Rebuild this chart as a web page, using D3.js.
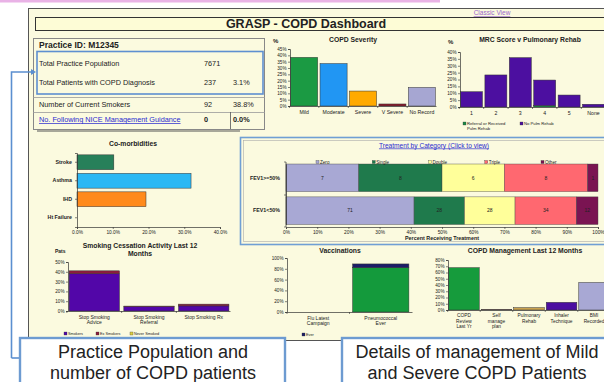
<!DOCTYPE html>
<html><head><meta charset="utf-8">
<script src="https://cdn.jsdelivr.net/npm/d3@7"></script>
<style>body{margin:0;background:#fff;} svg{display:block;font-family:"Liberation Sans",Arial,sans-serif;}</style>
</head><body><svg id="c" width="604" height="382"></svg>
<script>
// ---------------- DATA ----------------
const practiceLabels = ["Total Practice Population","Total Patients with COPD Diagnosis","Number of Current Smokers","No. Following NICE Management Guidance"];
const practiceCounts = ["7671","237","92","0"];
const practicePct = ["","3.1%","38.8%","0.0%"];

const severityCats = ["Mild","Moderate","Severe","V Severe","No Record"];
const severityVals = [38.4, 33.5, 11.8, 1.6, 14.7];
const severityTicks = [0,5,10,15,20,25,30,35,40,45];

const mrcCats = ["1","2","3","4","5","None"];
const mrcReferral = [0, 0, 0, 1.0, 0, 0];
const mrcNoRehab = [11.1, 23.3, 35.9, 18.6, 8.7, 2.0];
const mrcTicks = [0,5,10,15,20,25,30,35,40];
const mrcLegend = ["Referral or Received Pulm Rehab","No Pulm Rehab"];

const comorbCats = ["Stroke","Asthma","IHD","Ht Failure"];
const comorbVals = [10.3, 31.9, 19.3, 0];
const comorbTicks = [0,10,20,30,40];

const treatRows = ["FEV1>=50%","FEV1<50%"];
const treatSeries = ["Zero","Single","Double","Triple","Other"];
const treatZero = [7, 71];
const treatSingle = [8, 28];
const treatDouble = [6, 28];
const treatTriple = [8, 34];
const treatOther = [1, 12];
const treatTicks = [0,10,20,30,40,50,60,70,80,90,100];

const smokeCats = ["Stop Smoking\nAdvice","Stop Smoking\nReferral","Stop Smoking Rx"];
const smokeA = [38, 4.5, 5.2];
const smokeB = [3, 0.5, 1.8];
const smokeTicks = [0,10,20,30,40,50];
const smokeLegend = ["Smokers","Ex Smokers","Never Smoked"];

const vaccCats = ["Flu Latest\nCampaign","Pneumococcal\nEver"];
const vaccGiven = [0, 82];
const vaccOther = [0, 7];
const vaccTicks = [0,20,40,60,80,100];

const mgmtCats = ["COPD\nReview\nLast Yr","Self\nmanage\nplan","Pulmonary\nRehab","Inhaler\nTechnique","BMI\nRecorded"];
const mgmtVals = [67.7, 0.6, 3.7, 12.3, 44];
const mgmtTicks = [0,10,20,30,40,50,60,70,80];

// ---------------- STYLES ----------------
const severityColors = ["#1b9a43","#2196f3","#ffaa00","#8b1a2b","#a6a6d2"];
const mrcColors = ["#1a8a46","#4c0fa0"];
const comorbColors = ["#27805a","#2bb8f4","#ff8a1c"];
const treatColors = ["#a8a8d4","#1f7a4c","#ffff9a","#ff6870","#7a1452"];
const smokeColors = ["#5206a8","#8c1c3c","#e0d040"];
const vaccColors = ["#149a3c","#1c1c68"];
const mgmtColors = ["#169b3c","#8b1a2b","#c9a24f","#4c0fa0","#a8a8d4"];
const ink = "#222";

const svg = d3.select("#c");

// ---------------- FRAME ----------------
svg.append("rect").attr("x",0).attr("y",0).attr("width",440).attr("height",2.5).attr("fill","#e9b2e6");
svg.append("rect").attr("x",28.5).attr("y",8.5).attr("width",590).attr("height",332).attr("fill","#fbfadf").attr("stroke","#555").attr("stroke-width",1);
svg.append("text").attr("x",492).attr("y",15).attr("text-anchor","middle").attr("font-size",6.5).attr("fill","#9a66cc").attr("text-decoration","underline").text("Classic View");
svg.append("rect").attr("x",35.5).attr("y",17.5).attr("width",590).attr("height",13).attr("fill","#fdfcd6").attr("stroke","#333").attr("stroke-width",1);
svg.append("text").attr("x",306).attr("y",28).attr("text-anchor","middle").attr("font-size",12.5).attr("font-weight","bold").attr("fill",ink).text("GRASP - COPD Dashboard");

// practice info
svg.append("rect").attr("x",33.5).attr("y",38.5).attr("width",231).attr("height",91).attr("fill","none").attr("stroke","#888").attr("stroke-width",1);
svg.append("text").attr("x",39).attr("y",48).attr("font-size",8.5).attr("font-weight","bold").attr("fill",ink).text("Practice ID: M12345");
svg.append("line").attr("x1",33).attr("x2",265).attr("y1",97.5).attr("y2",97.5).attr("stroke","#999").attr("stroke-width",0.8);
svg.append("line").attr("x1",33).attr("x2",265).attr("y1",112.5).attr("y2",112.5).attr("stroke","#999").attr("stroke-width",0.8);
svg.append("line").attr("x1",230.5).attr("x2",230.5).attr("y1",112).attr("y2",129).attr("stroke","#555").attr("stroke-width",0.8);
const rowY = [66, 85, 107, 122];
practiceLabels.forEach((l,i)=>{
  const link = i===3;
  svg.append("text").attr("x",39).attr("y",rowY[i]).attr("font-size",7.3)
    .attr("fill",link?"#2a2ad0":ink).attr("text-decoration",link?"underline":null).text(l);
  svg.append("text").attr("x",204).attr("y",rowY[i]).attr("font-size",7.3).attr("font-weight",link?"bold":null).attr("fill",ink).text(practiceCounts[i]);
  svg.append("text").attr("x",233).attr("y",rowY[i]).attr("font-size",7.3).attr("font-weight",link?"bold":null).attr("fill",ink).text(practicePct[i]);
});
svg.append("rect").attr("x",37).attr("y",51.5).attr("width",226).attr("height",42.5).attr("fill","none").attr("stroke","#5e8fd0").attr("stroke-width",1.6);
svg.append("line").attr("x1",37).attr("x2",240).attr("y1",131).attr("y2",131).attr("stroke","#555").attr("stroke-width",1);

// ---------------- HELPERS ----------------
function styleAxis(a, fs){
  a.attr("font-size",fs).attr("font-family",null);
  a.selectAll(".domain").attr("stroke","#333").attr("stroke-width",0.7);
  a.selectAll(".tick line").attr("stroke","#333").attr("stroke-width",0.6);
  a.selectAll(".tick text").attr("fill",ink);
}
function multiline(a, fs, lh){
  a.selectAll(".tick text").each(function(d){
    const t = d3.select(this); const lines = String(d).split("\n");
    t.text(null).attr("y",0).attr("dy",null);
    lines.forEach((ln,j)=>t.append("tspan").attr("x",0).attr("y",fs+2.5+j*lh).text(ln));
  });
}
function vbar(o){
  const x = d3.scaleBand().domain(o.cats).range([o.x0,o.x1]).paddingInner(o.pi).paddingOuter(o.po);
  const y = d3.scaleLinear().domain([0,o.max]).range([o.yb,o.yt]);
  const g = svg.append("g");
  o.cats.forEach((c,i)=>{
    let acc = 0;
    o.series.forEach((s,k)=>{
      const v = s[i];
      if(v>0){
        g.append("rect").attr("x",x(c)).attr("width",x.bandwidth())
          .attr("y",y(acc+v)).attr("height",y(acc)-y(acc+v))
          .attr("fill",o.byCat?o.colors[i]:o.colors[k]).attr("stroke","#333").attr("stroke-width",0.5);
      }
      acc += v;
    });
  });
  const ya = g.append("g").attr("transform",`translate(${o.x0},0)`)
    .call(d3.axisLeft(y).tickValues(o.ticks).tickSize(2).tickSizeOuter(2).tickPadding(1.5).tickFormat(d=>d+"%"));
  styleAxis(ya, 4.6);
  const xa = g.append("g").attr("transform",`translate(0,${o.yb})`)
    .call(d3.axisBottom(x).tickSize(0).tickSizeOuter(0));
  styleAxis(xa, o.xfs||5.2);
  multiline(xa, o.xfs||5.2, o.lh||5.2);
  // boundary ticks
  o.cats.forEach(c=>{ g.append("line").attr("x1",x(c)-x.step()*x.paddingInner()/2).attr("x2",x(c)-x.step()*x.paddingInner()/2).attr("y1",o.yb).attr("y2",o.yb+2).attr("stroke","#333").attr("stroke-width",0.6); });
  return {x,y,g};
}
function title(x,y,t,fs){
  svg.append("text").attr("x",x).attr("y",y).attr("text-anchor","middle").attr("font-size",fs||6.8).attr("font-weight","bold").attr("fill",ink).text(t);
}
function legend(items, colors, xs, y, fs){
  items.forEach((t,i)=>{
    svg.append("rect").attr("x",xs[i]).attr("y",y-3).attr("width",3).attr("height",3).attr("fill",colors[i]).attr("stroke","#333").attr("stroke-width",0.3);
    svg.append("text").attr("x",xs[i]+4).attr("y",y).attr("font-size",fs||4.3).attr("fill",ink).text(t);
  });
}

// ---------------- COPD SEVERITY ----------------
title(353,42,"COPD Severity");
svg.append("text").attr("x",273).attr("y",43).attr("font-size",6).attr("font-weight","bold").attr("fill",ink).text("%");
vbar({cats:severityCats, series:[severityVals], colors:severityColors, byCat:true,
  x0:290, x1:436, pi:0.08, po:0.02, yb:106, yt:49, max:45, ticks:severityTicks});

// ---------------- MRC ----------------
title(530,42,"MRC Score v Pulmonary Rehab");
svg.append("text").attr("x",448).attr("y",44).attr("font-size",6).attr("font-weight","bold").attr("fill",ink).text("%");
vbar({cats:mrcCats, series:[mrcReferral, mrcNoRehab], colors:mrcColors,
  x0:460, x1:605, pi:0.1, po:0.02, yb:107, yt:52, max:40, ticks:mrcTicks});
svg.append("rect").attr("x",463).attr("y",122).attr("width",3).attr("height",3).attr("fill",mrcColors[0]).attr("stroke","#333").attr("stroke-width",0.3);
svg.append("text").attr("x",467).attr("y",125).attr("font-size",4.2).attr("fill",ink).text("Referral or Received");
svg.append("text").attr("x",467).attr("y",130).attr("font-size",4.2).attr("fill",ink).text("Pulm Rehab");
svg.append("rect").attr("x",520).attr("y",122).attr("width",3).attr("height",3).attr("fill",mrcColors[1]).attr("stroke","#333").attr("stroke-width",0.3);
svg.append("text").attr("x",524).attr("y",125).attr("font-size",4.2).attr("fill",ink).text(mrcLegend[1]);

// ---------------- CO-MORBIDITIES ----------------
title(133,146,"Co-morbidities");
{
  const x = d3.scaleLinear().domain([0,40]).range([77,220]);
  const y = d3.scaleBand().domain(comorbCats).range([153,227]).paddingInner(0.2).paddingOuter(0.1);
  const g = svg.append("g");
  comorbCats.forEach((c,i)=>{
    if(comorbVals[i]>0) g.append("rect").attr("x",x(0)).attr("y",y(c)).attr("width",x(comorbVals[i])-x(0)).attr("height",y.bandwidth())
      .attr("fill",comorbColors[i]).attr("stroke","#333").attr("stroke-width",0.5);
  });
  const xa = g.append("g").attr("transform","translate(0,227)").call(d3.axisBottom(x).tickValues(comorbTicks).tickSize(2).tickPadding(1.5).tickFormat(d=>d.toFixed(1)+"%"));
  styleAxis(xa,4.8);
  const ya = g.append("g").attr("transform","translate(77,0)").call(d3.axisLeft(y).tickSize(2).tickPadding(3));
  styleAxis(ya,5.3); ya.selectAll(".tick text").attr("font-weight","bold");
}

// ---------------- TREATMENT BY CATEGORY ----------------
svg.append("rect").attr("x",240.5).attr("y",137.5).attr("width",380).attr("height",107).attr("fill","#fbfadf").attr("stroke","#6f9fd4").attr("stroke-width",1.6);
svg.append("rect").attr("x",243.5).attr("y",140.5).attr("width",380).attr("height",101).attr("fill","none").attr("stroke","#aaa").attr("stroke-width",0.6);
svg.append("text").attr("x",434).attr("y",147.5).attr("text-anchor","middle").attr("font-size",6.6).attr("fill","#2a2ad0").attr("text-decoration","underline").text("Treatment by Category (Click to view)");
{
  const seriesVals = [treatZero, treatSingle, treatDouble, treatTriple, treatOther];
  const totals = treatRows.map((r,i)=>d3.sum(seriesVals, s=>s[i]));
  const x = d3.scaleLinear().domain([0,100]).range([286,598]);
  const y = d3.scaleBand().domain(treatRows).range([164,224.5]).paddingInner(0.16).paddingOuter(0);
  const g = svg.append("g");
  treatRows.forEach((r,i)=>{
    let acc = 0;
    seriesVals.forEach((s,k)=>{
      const p0 = acc/totals[i]*100, p1 = (acc+s[i])/totals[i]*100;
      g.append("rect").attr("x",x(p0)).attr("y",y(r)).attr("width",x(p1)-x(p0)).attr("height",y.bandwidth())
        .attr("fill",treatColors[k]).attr("stroke","#444").attr("stroke-width",0.4);
      g.append("text").attr("x",(x(p0)+x(p1))/2).attr("y",y(r)+y.bandwidth()/2+1.8).attr("text-anchor","middle")
        .attr("font-size",5).attr("fill",ink).text(s[i]);
      acc += s[i];
    });
  });
  const xa = g.append("g").attr("transform","translate(0,227)").call(d3.axisBottom(x).tickValues(treatTicks).tickSize(2).tickPadding(1.2).tickFormat(d=>d+"%"));
  styleAxis(xa,4.8);
  const ya = g.append("g").attr("transform","translate(286,0)").call(d3.axisLeft(y).tickSize(0).tickPadding(6));
  styleAxis(ya,5.3); ya.selectAll(".tick text").attr("font-weight","bold");
  [162,195,227].forEach(v=>g.append("line").attr("x1",284).attr("x2",286).attr("y1",v).attr("y2",v).attr("stroke","#333").attr("stroke-width",0.6));
  g.append("line").attr("x1",286).attr("x2",286).attr("y1",162).attr("y2",227).attr("stroke","#333").attr("stroke-width",0.7);
  svg.append("text").attr("x",442).attr("y",240).attr("text-anchor","middle").attr("font-size",5.4).attr("font-weight","bold").attr("fill",ink).text("Percent Receiving Treatment");
  const lx = d3.scalePoint().domain(treatSeries).range([316,541]);
  legend(treatSeries, treatColors, treatSeries.map(s=>lx(s)), 163.5, 4.6);
}

// ---------------- SMOKING CESSATION ----------------
title(140,248,"Smoking Cessation Activity  Last 12",6.8);
title(140,256,"Months",6.8);
svg.append("text").attr("x",55).attr("y",253).attr("font-size",5).attr("font-weight","bold").attr("fill",ink).text("Pats");
vbar({cats:smokeCats, series:[smokeA, smokeB], colors:smokeColors,
  x0:68, x1:230, pi:0.08, po:0.02, yb:311, yt:262, max:50, ticks:smokeTicks, xfs:5, lh:5});
legend(smokeLegend, smokeColors, [64,96,130], 335, 3.8);

// ---------------- VACCINATIONS ----------------
title(340,253,"Vaccinations");
vbar({cats:vaccCats, series:[vaccGiven, vaccOther], colors:vaccColors,
  x0:287, x1:412, pi:0.1, po:0.05, yb:312, yt:258, max:100, ticks:vaccTicks, xfs:5, lh:5});
legend(["Ever"], [vaccColors[1]], [302], 336, 3.8);

// ---------------- COPD MANAGEMENT ----------------
title(525,253,"COPD Management Last 12 Months");
vbar({cats:mgmtCats, series:[mgmtVals], colors:mgmtColors, byCat:true,
  x0:448, x1:610, pi:0.06, po:0.02, yb:310, yt:260, max:80, ticks:mgmtTicks, xfs:4.8, lh:5.2});

// ---------------- ANNOTATIONS ----------------
svg.append("path").attr("d","M11.5,358 L11.5,72 L33,72").attr("fill","none").attr("stroke","#5b8fd0").attr("stroke-width",1.6);
svg.append("path").attr("d","M36,72 L31,69 L31,75 Z").attr("fill","#5b8fd0");
svg.append("path").attr("d","M11.5,358 L20,358").attr("stroke","#5b8fd0").attr("stroke-width",1.6);
svg.append("rect").attr("x",20).attr("y",338).attr("width",265).attr("height",52).attr("fill","#fff").attr("stroke","#6d9bd1").attr("stroke-width",2.4);
svg.append("rect").attr("x",342).attr("y",338).attr("width",280).attr("height",52).attr("fill","#fff").attr("stroke","#6d9bd1").attr("stroke-width",2.4);
[["Practice Population and",358],["number of COPD patients",379]].forEach(([t,yy])=>
  svg.append("text").attr("x",153).attr("y",yy).attr("text-anchor","middle").attr("font-size",18).attr("fill","#222").text(t));
[["Details of management of Mild",358],["and Severe COPD Patients",379]].forEach(([t,yy])=>
  svg.append("text").attr("x",477).attr("y",yy).attr("text-anchor","middle").attr("font-size",18).attr("fill","#222").text(t));
</script></body></html>
